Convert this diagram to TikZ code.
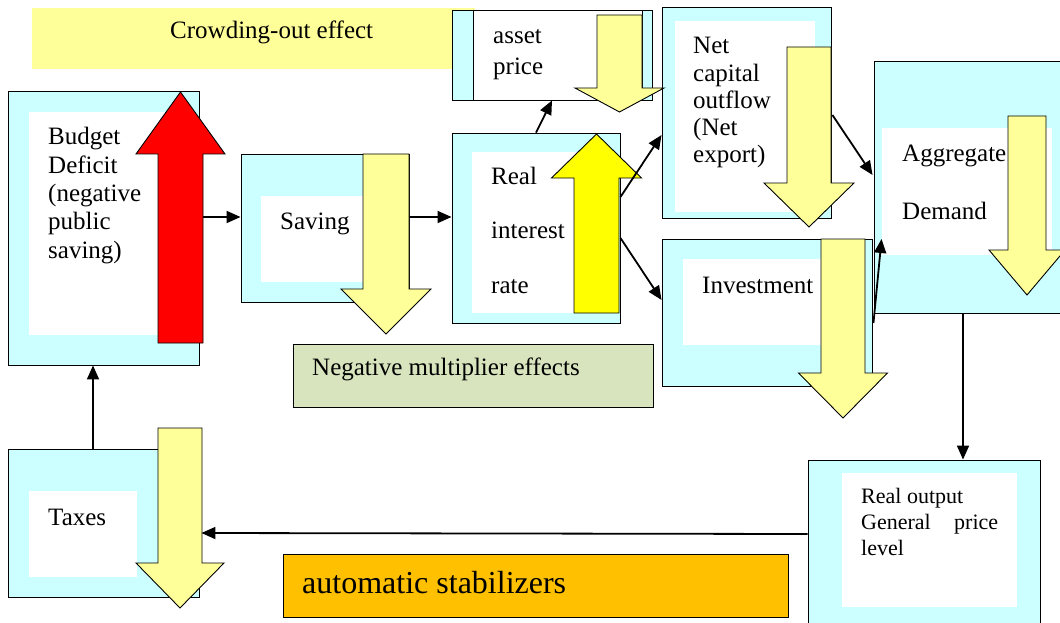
\documentclass[tikz,border=0pt]{standalone}
\usepackage{fontspec}
\setmainfont{Liberation Serif}
\usetikzlibrary{calc,arrows.meta}
\definecolor{skyfill}{HTML}{CCFFFF}
\definecolor{paleyellow}{HTML}{FFFF99}
\definecolor{brightyellow}{HTML}{FFFF00}
\definecolor{olivefill}{HTML}{D7E4BD}
\definecolor{orangefill}{HTML}{FFC000}
\def\fatarrow[#1](#2,#3)(#4:#5:#6:#7){\draw[#1] ({#2-#4},#3) -- ({#2+#4},#3) -- ({#2+#4},#5) -- ({#2+#6},#5) -- (#2,#7) -- ({#2-#6},#5) -- ({#2-#4},#5) -- cycle;}
\tikzset{
  panel/.style={draw=black, line width=0.9pt, fill=skyfill, inner sep=0pt},
  flatbox/.style={draw=black, line width=0.9pt, inner sep=0pt},
  txt/.style={anchor=base west, inner sep=0pt, align=left, font=\fontsize{25}{28.3}\selectfont},
  conn/.style={line width=1.8pt, -{Triangle[length=14pt,width=12pt]}},
  block/.style={draw=black, line width=0.9pt}
}

\begin{document}
\begin{tikzpicture}[x=1pt, y=-1pt]
			%%%%% START %%%%%
			\useasboundingbox (0,0) rectangle (1060,623);
			
			% crowding-out band
			\node[fill=paleyellow, inner sep=0pt, minimum width=443pt, minimum height=61pt] (crowd) at (253.5,38.5) {};
			\node[txt] (crowdtxt) at (170,39) {Crowding-out effect};
			
			% boxes
			\node[panel, minimum width=191pt, minimum height=274pt] (bd) at (103.5,228) {};
			\fill[white] (29,112) rectangle (175,335);
			\node[panel, minimum width=168pt, minimum height=148pt] (sav) at (325,228) {};
			\fill[white] (261,196) rectangle (385,282);
			\node[panel, minimum width=200pt, minimum height=90pt] (asset) at (552,55) {};
			\draw[fill=white, line width=0.9pt] (473,10) rectangle (642,100);
			\node[panel, minimum width=168pt, minimum height=190pt] (real) at (536,228) {};
			\fill[white] (472,152) rectangle (600,313);
			\node[panel, minimum width=169pt, minimum height=211pt] (nco) at (746.5,112.5) {};
			\fill[white] (675,21) rectangle (815,212);
			\node[panel, minimum width=210pt, minimum height=147pt] (inv) at (767,312.5) {};
			\fill[white] (683,259) rectangle (830,345);
			\node[panel, minimum width=190pt, minimum height=252pt] (ad) at (969,187) {};
			\fill[white] (882,128) rectangle (1052,255);
			\node[panel, minimum width=232pt, minimum height=170pt] (ro) at (924,545) {};
			\fill[white] (842,473) rectangle (1017,607);
			\node[panel, minimum width=191pt, minimum height=148pt] (tax) at (103.5,523) {};
			\fill[white] (29,491) rectangle (137,577);
			\node[flatbox, fill=olivefill, minimum width=360pt, minimum height=63pt] (neg) at (473,375.5) {};
			\node[flatbox, fill=orangefill, minimum width=505pt, minimum height=63pt] (auto) at (535.5,585.5) {};
			
			% texts (base = last line)
			\node[txt] (bdtxt) at (48,258) {Budget\\Deficit\\(negative\\public\\saving)};
			\node[txt] (savtxt) at (280,229) {Saving};
			\node[txt, font=\fontsize{25}{31}\selectfont] (assettxt) at (493,75) {asset\\price};
			\node[txt, font=\fontsize{25}{54.5}\selectfont] (realtxt) at (491,293) {Real\\interest\\rate};
			\node[txt, font=\fontsize{25}{27.3}\selectfont] (ncotxt) at (693,163) {Net\\capital\\outflow\\(Net\\export)};
			\node[txt] (invtxt) at (702,293) {Investment};
			\node[txt, font=\fontsize{25}{58}\selectfont] (adtxt) at (902,219) {Aggregate\\Demand};
			\node[txt, font=\fontsize{22}{26}\selectfont] (rotxt) at (861,555) {Real output\\\makebox[137pt]{General\hfill price}\\level};
			\node[txt] (taxtxt) at (48,525) {Taxes};
			\node[txt] (negtxt) at (312,375) {Negative multiplier effects};
			\node[txt, font=\fontsize{32}{36}\selectfont] (autotxt) at (302,593) {automatic stabilizers};
			
			% block arrows
			\draw[conn] ($(bd.east)+(0,-11)$) -- ($(sav.west)+(0,-11)$);
			\fatarrow[block, fill=red](180.5,343)(22.5:154:44.5:92);
			\fatarrow[block, fill=paleyellow](386,154)(23:289:45:334);
			\fatarrow[block, fill=paleyellow](619.5,15)(22.5:88:44.5:112);
			\fatarrow[block, fill=brightyellow](596.5,313)(22.5:178:45:134);
			\fatarrow[block, fill=paleyellow](809,47)(22:183:45:227);
			\fatarrow[block, fill=paleyellow](843,239)(22:373:44.5:418);
			\fatarrow[block, fill=paleyellow](1027,116)(19:250:38:295);
			\fatarrow[block, fill=paleyellow](180,428)(22:563:44:608);
			
			% connectors
			\coordinate (adin) at ($(ad.west)+(8,52)$);
			\draw[conn] ($(sav.east)+(0,-11)$) -- ($(real.west)+(0,-11)$);
			\draw[conn] (real.north) -- (asset.south);
			\draw[conn] ($(real.east)+(0,-31)$) -- ($(nco.west)+(0,22.5)$);
			\draw[conn] ($(real.east)+(0,10)$) -- ($(inv.west)+(0,-12.5)$);
			\draw[conn] ($(nco.east)+(1,2.5)$) -- ($(ad.west)+(-1,-12)$);
			\draw[conn] ($(inv.east)+(1,10.5)$) -- (adin);
			\draw[conn] ($(ad.south)+(-6,0)$) -- ($(ro.north)+(39,0)$);
			\draw[conn] ($(ro.west)+(0,-11)$) -- ($(tax.east)+(2,10)$);
			\draw[conn] ($(tax.north)+(-10.5,0)$) -- ($(bd.south)+(-10.5,0)$);
			%%%%% END %%%%%
		\end{tikzpicture}
\end{document}
